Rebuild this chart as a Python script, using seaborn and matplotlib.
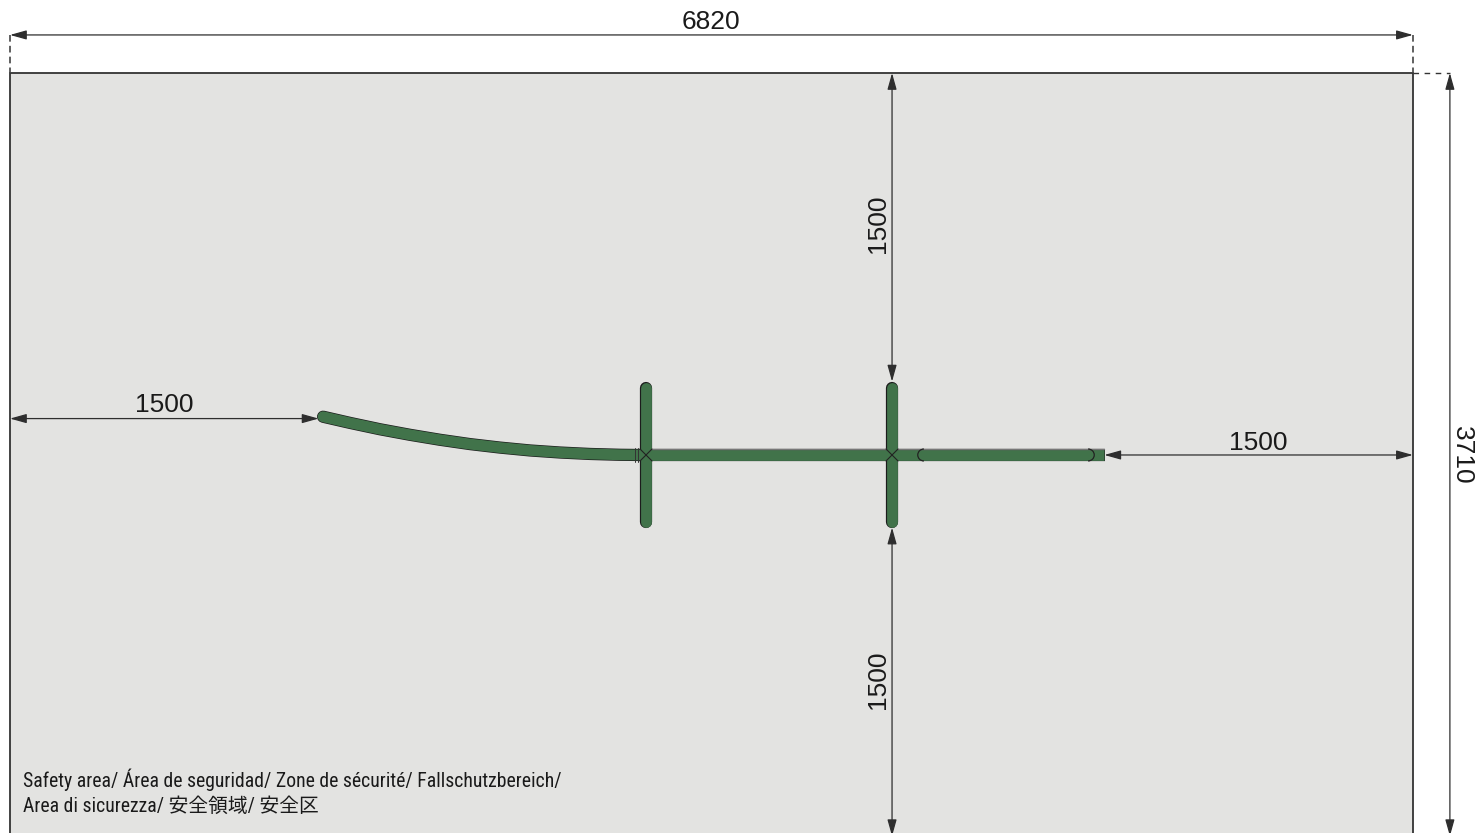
# Safety area plan for the play structure, drawn in mm
import matplotlib
matplotlib.use("Agg")
import matplotlib.pyplot as plt
from matplotlib.patches import Arc, Rectangle
import seaborn as sns

# ===============================
# Data (mm)
# ===============================
AREA_W = 6820
AREA_H = 3710
CLEAR = 1500
TRACK_W = 58

curve_x = [1522, 1653, 1799, 1945, 2090, 2236, 2382, 2528, 2674, 2820, 2965, 3063]
curve_y = [1671, 1701, 1732, 1759, 1783, 1804, 1821, 1835, 1845, 1852, 1856, 1857]
cross_x = [3092, 4288]
collar_x = [3040, 3055]
slider_x = [4443, 5241]

area_label = [
    "Safety area/ Área de seguridad/ Zone de sécurité/ Fallschutzbereich/",
    "Area di sicurezza/ 安全領域/ 安全区",
]

GREEN = "#41734a"
AREA_GREY = "#e3e3e1"
CENTER_Y = AREA_H / 2 + 2
PX = 0.2057  # pixels per mm

sns.set_theme(style="white")
plt.rcParams["font.family"] = ["Liberation Sans", "Noto Sans CJK JP"]

fig = plt.figure(figsize=(14.76, 8.33), dpi=100)
ax = fig.add_axes([0, 0, 1, 1])
ax.set_xlim(-10 / PX, 1466 / PX)
ax.set_ylim(760 / PX, -73 / PX)
ax.axis("off")

# ===============================
# Safety area
# ===============================
ax.add_patch(Rectangle((0, 0), AREA_W, AREA_H, facecolor=AREA_GREY,
                       edgecolor="#333333", linewidth=1.3, zorder=1))

# ===============================
# Track and cross bars
# ===============================
track_x = [curve_x[-1], AREA_W - CLEAR]
track_y = [CENTER_Y, CENTER_Y]
bar_y = [CLEAR + TRACK_W / 2, AREA_H - CLEAR - TRACK_W / 2]


def draw_track(color, width, end_pad=0):
    sns.lineplot(x=curve_x, y=curve_y, sort=False, estimator=None, ax=ax, color=color,
                 linewidth=width, solid_capstyle="round", solid_joinstyle="round", zorder=3)
    sns.lineplot(x=[track_x[0], track_x[1] + end_pad], y=track_y, sort=False, estimator=None,
                 ax=ax, color=color, linewidth=width, solid_capstyle="butt", zorder=3)
    for x in cross_x:
        sns.lineplot(x=[x, x], y=bar_y, sort=False, estimator=None, ax=ax, color=color,
                     linewidth=width, solid_capstyle="round", zorder=3)


draw_track("#1c1c1c", 8.8, end_pad=5)
draw_track(GREEN, 7.8)

# light top edge along the straight part
half = TRACK_W / 2
edges = [cross_x[0] + half, cross_x[1] - half, cross_x[1] + half, AREA_W - CLEAR]
for a, b in zip(edges[::2], edges[1::2]):
    ax.plot([a, b], [CENTER_Y - half - 1] * 2, color="#777777", lw=1.0, zorder=4)

# crossings, collar and slider ends
for x in cross_x:
    ax.plot([x - half, x + half], [CENTER_Y - half, CENTER_Y + half], color="#222222", lw=0.8, zorder=5)
    ax.plot([x - half, x + half], [CENTER_Y + half, CENTER_Y - half], color="#222222", lw=0.8, zorder=5)
for x in collar_x:
    ax.plot([x, x], [CENTER_Y - half - 3, CENTER_Y + half + 3], color="#333333", lw=0.7, zorder=5)
ax.add_patch(Arc((slider_x[0], CENTER_Y), 60, TRACK_W, theta1=90, theta2=270,
                 color="#222222", lw=0.9, zorder=5))
ax.add_patch(Arc((slider_x[1], CENTER_Y), 60, TRACK_W, theta1=-90, theta2=90,
                 color="#222222", lw=0.9, zorder=5))


# ===============================
# Dimension lines
# ===============================
def dim_arrow(x0, y0, x1, y1):
    ax.annotate("", xy=(x1, y1), xytext=(x0, y0), annotation_clip=False, zorder=6,
                arrowprops=dict(arrowstyle="<|-|>,head_length=1.0,head_width=0.28", mutation_scale=10,
                                shrinkA=0, shrinkB=0, color="#2e2e2e", lw=0.9))


top_y = -185
right_x = 7000
left_arrow_y = 1680
dim_arrow(0, top_y, AREA_W, top_y)
dim_arrow(right_x, 0, right_x, AREA_H)
dim_arrow(cross_x[1], 0, cross_x[1], CLEAR)
dim_arrow(cross_x[1], AREA_H - CLEAR, cross_x[1], AREA_H)
dim_arrow(0, left_arrow_y, CLEAR, left_arrow_y)
dim_arrow(AREA_W - CLEAR, CENTER_Y, AREA_W, CENTER_Y)

ax.plot([0, 0], [top_y, 0], color="#444444", lw=1.2, ls=(0, (4, 2.5)), zorder=2)
ax.plot([AREA_W, AREA_W], [top_y, 0], color="#444444", lw=1.2, ls=(0, (4, 2.5)), zorder=2)
ax.plot([AREA_W, right_x], [0, 0], color="#333333", lw=1.0, ls=(0, (4, 4)), zorder=2)

# ===============================
# Texts
# ===============================
dim_font = dict(fontsize=19, color="#1a1a1a", ha="center", va="center")
ax.text(3408, -248, str(AREA_W), **dim_font)
ax.text(4220, 735, str(CLEAR), rotation=90, **dim_font)
ax.text(4220, 2950, str(CLEAR), rotation=90, **dim_font)
ax.text(749, 1614, str(CLEAR), **dim_font)
ax.text(6067, 1799, str(CLEAR), **dim_font)
ax.text(7060, 1858, str(AREA_H), rotation=270, **dim_font)

label_font = dict(fontsize=14.2, color="#1a1a1a", ha="left", va="center",
                  family=["Roboto Condensed", "Archivo Narrow", "Liberation Sans", "Noto Sans CJK JP"])
ax.text(63, 3437, area_label[0], **label_font)
ax.text(63, 3563, area_label[1], **label_font)

fig.savefig("out.png", dpi=100)
